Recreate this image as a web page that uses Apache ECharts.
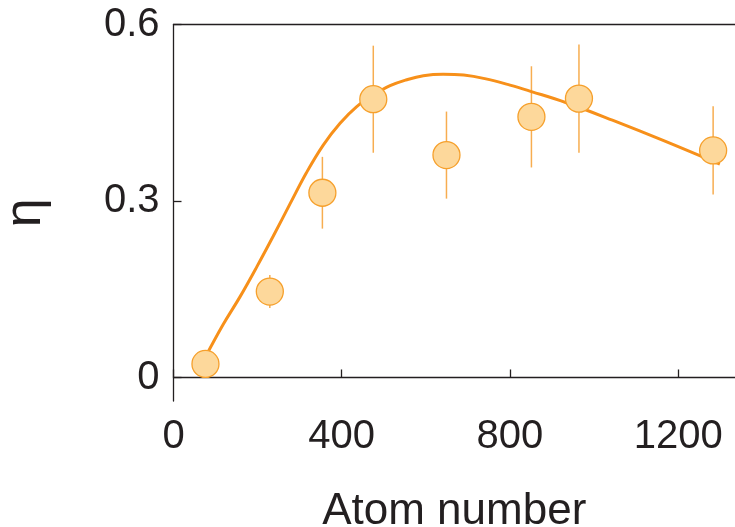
<!DOCTYPE html>
<html>
<head>
<meta charset="utf-8">
<script src="https://cdn.jsdelivr.net/npm/echarts@6/dist/echarts.min.js"></script>
<style>
  html, body { margin: 0; padding: 0; background: #fff; }
  #chart { width: 735px; height: 527px; }
</style>
</head>
<body>
<div id="chart"></div>
<script>
// measured points
const atomNumber = [76, 229, 354, 475, 649, 851, 964, 1283]
const eta = [0.023, 0.146, 0.314, 0.473, 0.378, 0.443, 0.474, 0.386]
const etaErr = [0.01, 0.028, 0.061, 0.091, 0.074, 0.086, 0.092, 0.075]

// fitted curve
const fitX = [76, 118, 158, 198, 237, 277, 316, 356, 396, 435, 475, 515, 554, 594, 641, 690, 740, 800, 851, 934, 1045, 1164, 1299]
const fitY = [0.035, 0.09, 0.137, 0.188, 0.24, 0.295, 0.348, 0.395, 0.432, 0.46, 0.48, 0.496, 0.506, 0.513, 0.5155, 0.514, 0.508, 0.497, 0.486, 0.467, 0.437, 0.403, 0.3626]

const xTicks = [0, 400, 800, 1200]
const yTicks = [0, 0.3, 0.6]

const font = '"Liberation Sans", Arial, Helvetica, sans-serif'
const ink = '#231f20'

const chart = echarts.init(document.getElementById('chart'))

const points = atomNumber.map((x, i) => [x, eta[i]])
const bars = atomNumber.map((x, i) => [x, eta[i] - etaErr[i], eta[i] + etaErr[i]])
const fit = fitX.map((x, i) => [x, fitY[i]])

chart.setOption({
  animation: false,
  grid: { left: 173.5, top: 24.5, right: 0, bottom: 126, outerBoundsMode: 'none', containLabel: false },
  xAxis: [
    {
      type: 'value',
      min: 0,
      max: 1335,
      name: 'Atom number',
      nameLocation: 'middle',
      nameGap: 89,
      nameTextStyle: { fontFamily: font, fontSize: 44, color: ink },
      splitLine: { show: false },
      axisLine: { lineStyle: { color: ink, width: 1.3 } },
      axisTick: { inside: true, length: 8, customValues: xTicks, lineStyle: { color: ink, width: 1.3 } },
      axisLabel: { customValues: xTicks, margin: 16, fontFamily: font, fontSize: 40, color: ink, formatter: v => String(v) }
    },
    {
      type: 'value',
      position: 'top',
      min: 0,
      max: 1335,
      splitLine: { show: false },
      axisLine: { show: true, lineStyle: { color: ink, width: 1.3 } },
      axisTick: { show: false },
      axisLabel: { show: false }
    }
  ],
  yAxis: {
    type: 'value',
    min: -0.04,
    max: 0.6,
    name: 'η',
    nameLocation: 'middle',
    nameRotate: 90,
    nameGap: 122,
    nameTextStyle: { fontFamily: font, fontSize: 52, color: ink },
    splitLine: { show: false },
    axisLine: { show: true, lineStyle: { color: ink, width: 1.3 } },
    axisTick: { show: true, inside: true, length: 8, customValues: yTicks, lineStyle: { color: ink, width: 1.3 } },
    axisLabel: { customValues: yTicks, margin: 14, fontFamily: font, fontSize: 40, color: ink, formatter: v => String(v) }
  },
  series: [
    {
      // error bars
      type: 'custom',
      z: 1,
      data: bars,
      renderItem: (params, api) => {
        const lo = api.coord([api.value(0), api.value(1)])
        const hi = api.coord([api.value(0), api.value(2)])
        return {
          type: 'line',
          shape: { x1: lo[0], y1: lo[1], x2: hi[0], y2: hi[1] },
          style: { stroke: '#f7ad50', lineWidth: 1.5 }
        }
      }
    },
    {
      type: 'line',
      z: 2,
      data: fit,
      smooth: 0.4,
      showSymbol: false,
      symbol: 'none',
      lineStyle: { color: '#f7901a', width: 3 }
    },
    {
      type: 'scatter',
      z: 3,
      data: points,
      symbolSize: 27,
      itemStyle: { color: '#fdd89b', borderColor: '#f6a02c', borderWidth: 1.3, opacity: 1 }
    }
  ]
})
</script>
</body>
</html>
